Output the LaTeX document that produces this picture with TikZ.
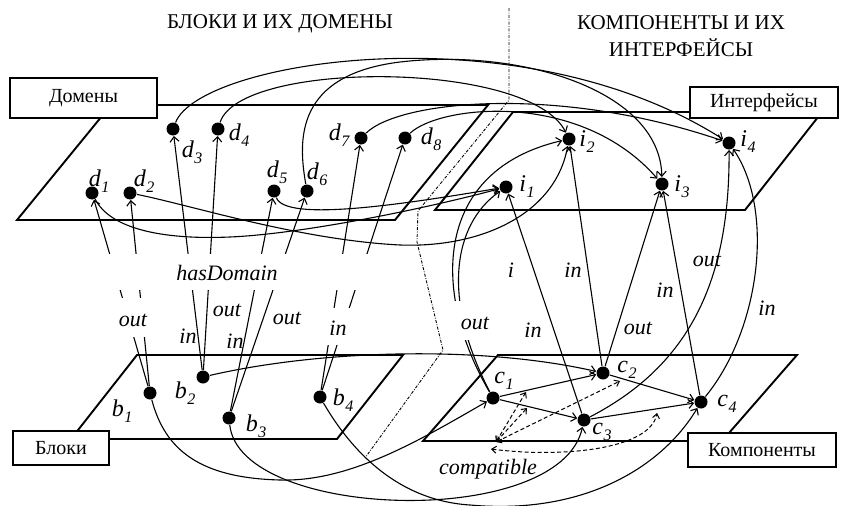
\documentclass[tikz,border=0pt]{standalone}
\usepackage{fontspec}
\setmainfont{Liberation Serif}
\usetikzlibrary{arrows.meta}
\newcommand\nlab[2]{\textit{#1\kern0.5pt\raisebox{-6pt}{\fontsize{16}{16}\selectfont #2}}}
\begin{document}
\begin{tikzpicture}[x=1pt,y=-1pt,
  dot/.style={circle,fill=black,minimum size=13pt,inner sep=0pt,outer sep=0.5pt},
  conn/.style={line width=1.1pt,-{Straight Barb[length=5pt,width=9pt]}},
  plane/.style={line width=1.9pt,line join=miter},
  tagbox/.style={draw,line width=1.6pt,fill=white,inner sep=0pt,font=\fontsize{20}{22}\selectfont},
  title/.style={font=\fontsize{21}{24}\selectfont},
  rel/.style={font=\fontsize{22}{24}\selectfont\itshape,inner sep=0pt},
  nl/.style={font=\fontsize{24}{26}\selectfont,inner sep=0pt},
  mask/.style={fill=white,inner sep=0pt},
  compat/.style={line width=1pt,dash pattern=on 4pt off 2.5pt,{Straight Barb[length=4.5pt,width=7pt]}-{Straight Barb[length=4.5pt,width=7pt]}},
  divider/.style={line width=0.9pt,dash pattern=on 3pt off 1.5pt on 0.8pt off 1.5pt}
]
\useasboundingbox (0,0) rectangle (841,506);
% titles
\node[title] (t1) at (280,24) {БЛОКИ И ИХ ДОМЕНЫ};
\node[title] (t2) at (681,23) {КОМПОНЕНТЫ И ИХ};
\node[title] (t3) at (681,48) {ИНТЕРФЕЙСЫ};
% planes
\draw[plane] (17,220) -- (395,220) -- (488,105) -- (111,105) -- cycle;
\draw[plane] (435,210) -- (745,210) -- (822,112) -- (513,112) -- cycle;
\draw[plane] (71,439) -- (337,439) -- (403,355) -- (137,355) -- cycle;
\draw[plane] (423,441) -- (722,441) -- (797,355) -- (498,355) -- cycle;
% divider
\draw[divider] (509,8) -- (509,100) -- (418,211) -- (417,242) -- (443,350) -- (365,458);
% boxes
\node[tagbox,minimum width=147pt,minimum height=40pt] (bxD) at (83.5,98) {Домены};
\node[tagbox,minimum width=148pt,minimum height=31pt] (bxI) at (764,102.5) {Интерфейсы};
\node[tagbox,minimum width=96pt,minimum height=34pt] (bxB) at (61,448) {Блоки};
\node[tagbox,minimum width=148pt,minimum height=34pt] (bxC) at (762,450) {Компоненты};
% dots
\node[dot] (d1) at (92,193) {};
\node[dot] (d2) at (130,193) {};
\node[dot] (d3) at (173,129) {};
\node[dot] (d4) at (218,129) {};
\node[dot] (d5) at (274,191) {};
\node[dot] (d6) at (307,191) {};
\node[dot] (d7) at (361,138) {};
\node[dot] (d8) at (405,138) {};
\node[dot] (i1) at (506,187) {};
\node[dot] (i2) at (569,139) {};
\node[dot] (i3) at (662,184) {};
\node[dot] (i4) at (729,143) {};
\node[dot] (b1) at (150,393) {};
\node[dot] (b2) at (203,377) {};
\node[dot] (b3) at (229,418) {};
\node[dot] (b4) at (320,397) {};
\node[dot] (c1) at (493,398) {};
\node[dot] (c2) at (603,373) {};
\node[dot] (c3) at (584,420) {};
\node[dot] (c4) at (701,402) {};
% hasDomain edges
\draw[conn] (b1) -- (d1);
\draw[conn] (b1) -- (d2);
\draw[conn] (b2) -- (d3);
\draw[conn] (b2) -- (d4);
\draw[conn] (b3) -- (d5);
\draw[conn] (b3) -- (d6);
\draw[conn] (b4) -- (d7);
\draw[conn] (b4) -- (d8);
% domain -> interface
\draw[conn] (d1) .. controls (110,228) and (160,240) .. (230,237) .. controls (300,234) and (420,210) .. (i1);
\draw[conn] (d2) .. controls (190,205) and (300,240) .. (400,245) .. controls (480,248) and (555,215) .. (i2);
\draw[conn] (d5) .. controls (285,222) and (400,205) .. (i1);
\draw[conn] (d3) .. controls (200,60) and (520,10) .. (i4);
\draw[conn] (d6) .. controls (298,140) and (295,75) .. (400,62) .. controls (520,48) and (660,90) .. (i3);
\draw[conn] (d4) .. controls (240,60) and (530,60) .. (i2);
\draw[conn] (d7) .. controls (400,100) and (560,85) .. (i4);
\draw[conn] (d8) .. controls (440,105) and (580,90) .. (i3);
% component -> interface
\draw[conn] (c2) -- (i2);
\draw[conn] (c2) -- (i3);
\draw[conn] (c4) -- (i3);
\draw[conn] (c3) -- (i1);
\draw[conn] (c3) .. controls (690,365) and (730,280) .. (i4);
\draw[conn] (c4) .. controls (760,330) and (775,210) .. (i4);
\draw[conn] (c1) .. controls (430,290) and (435,170) .. (i2);
\draw[conn] (c1) .. controls (442,300) and (452,225) .. (i1);
% block -> component
\draw[conn] (b1) .. controls (165,450) and (200,478) .. (280,480) .. controls (350,482) and (420,440) .. (c1);
\draw[conn] (b3) .. controls (240,520) and (560,530) .. (c3);
\draw[conn] (b4) .. controls (345,440) and (390,500) .. (470,505) .. controls (580,515) and (660,470) .. (c4);
\draw[conn] (b2) .. controls (320,350) and (480,345) .. (c2);
% component -> component
\draw[conn] (c1) -- (c2);
\draw[conn] (c1) -- (c3);
\draw[conn] (c2) -- (c4);
\draw[conn] (c3) -- (c4);
% compatible
\coordinate (cpO) at (496,442);
\coordinate (cpA) at (526,392);
\coordinate (cpB) at (527,408);
\coordinate (cpC) at (620,381);
\coordinate (cpD) at (491,449);
\coordinate (cpE) at (657,413);
\draw[compat] (cpO) -- (cpA);
\draw[compat] (cpO) -- (cpB);
\draw[compat] (cpO) -- (cpC);
\draw[compat] (cpD) .. controls (560,458) and (650,450) .. (cpE);
% masks
\node[mask,minimum width=285pt,minimum height=36pt] (mHD) at (240,271.5) {};
\node[mask,minimum width=38pt,minimum height=39pt] (mB1) at (133.5,317.5) {};
\node[mask,minimum width=30pt,minimum height=37pt] (mB4) at (339,326.5) {};
\node[mask,minimum width=48pt,minimum height=39pt] (mC1) at (468,320.5) {};
% relation labels
\node[rel] (hd) at (227,273) {hasDomain};
\node[rel] (lo1) at (133,320) {out};
\node[rel] (li2) at (188,336) {in};
\node[rel] (lo2) at (227,310) {out};
\node[rel] (li3) at (235,341) {in};
\node[rel] (lo3) at (287,318) {out};
\node[rel] (li4) at (338,328) {in};
\node[rel] (lo5) at (475,323) {out};
\node[rel] (li5) at (511,270) {i};
\node[rel] (li6) at (533,330) {in};
\node[rel] (li7) at (573,270) {in};
\node[rel] (lo6) at (638,328) {out};
\node[rel] (li8) at (665,290) {in};
\node[rel] (lo7) at (707,260) {out};
\node[rel] (li9) at (767,308) {in};
\node[rel] (cmp) at (488,469) {compatible};
% node labels
\node[nl] (ld1) at (99,181) {\nlab{d}{1}};
\node[nl] (ld2) at (144,181) {\nlab{d}{2}};
\node[nl] (ld3) at (192,152) {\nlab{d}{3}};
\node[nl] (ld4) at (239,135) {\nlab{d}{4}};
\node[nl] (ld5) at (277,172) {\nlab{d}{5}};
\node[nl] (ld6) at (317,174) {\nlab{d}{6}};
\node[nl] (ld7) at (339,135) {\nlab{d}{7}};
\node[nl] (ld8) at (431,139) {\nlab{d}{8}};
\node[nl] (li1l) at (527,187) {\nlab{i}{1}};
\node[nl] (li2l) at (587,142) {\nlab{i}{2}};
\node[nl] (li3l) at (682,187) {\nlab{i}{3}};
\node[nl] (li4l) at (748,142) {\nlab{i}{4}};
\node[nl] (lb1) at (122,411) {\nlab{b}{1}};
\node[nl] (lb2) at (185,393) {\nlab{b}{2}};
\node[nl] (lb3) at (256,426) {\nlab{b}{3}};
\node[nl] (lb4) at (343,400) {\nlab{b}{4}};
\node[nl] (lc1) at (504,381) {\nlab{c}{1}};
\node[nl] (lc2) at (627,370) {\nlab{c}{2}};
\node[nl] (lc3) at (602,432) {\nlab{c}{3}};
\node[nl] (lc4) at (727,404) {\nlab{c}{4}};
\end{tikzpicture}
\end{document}
